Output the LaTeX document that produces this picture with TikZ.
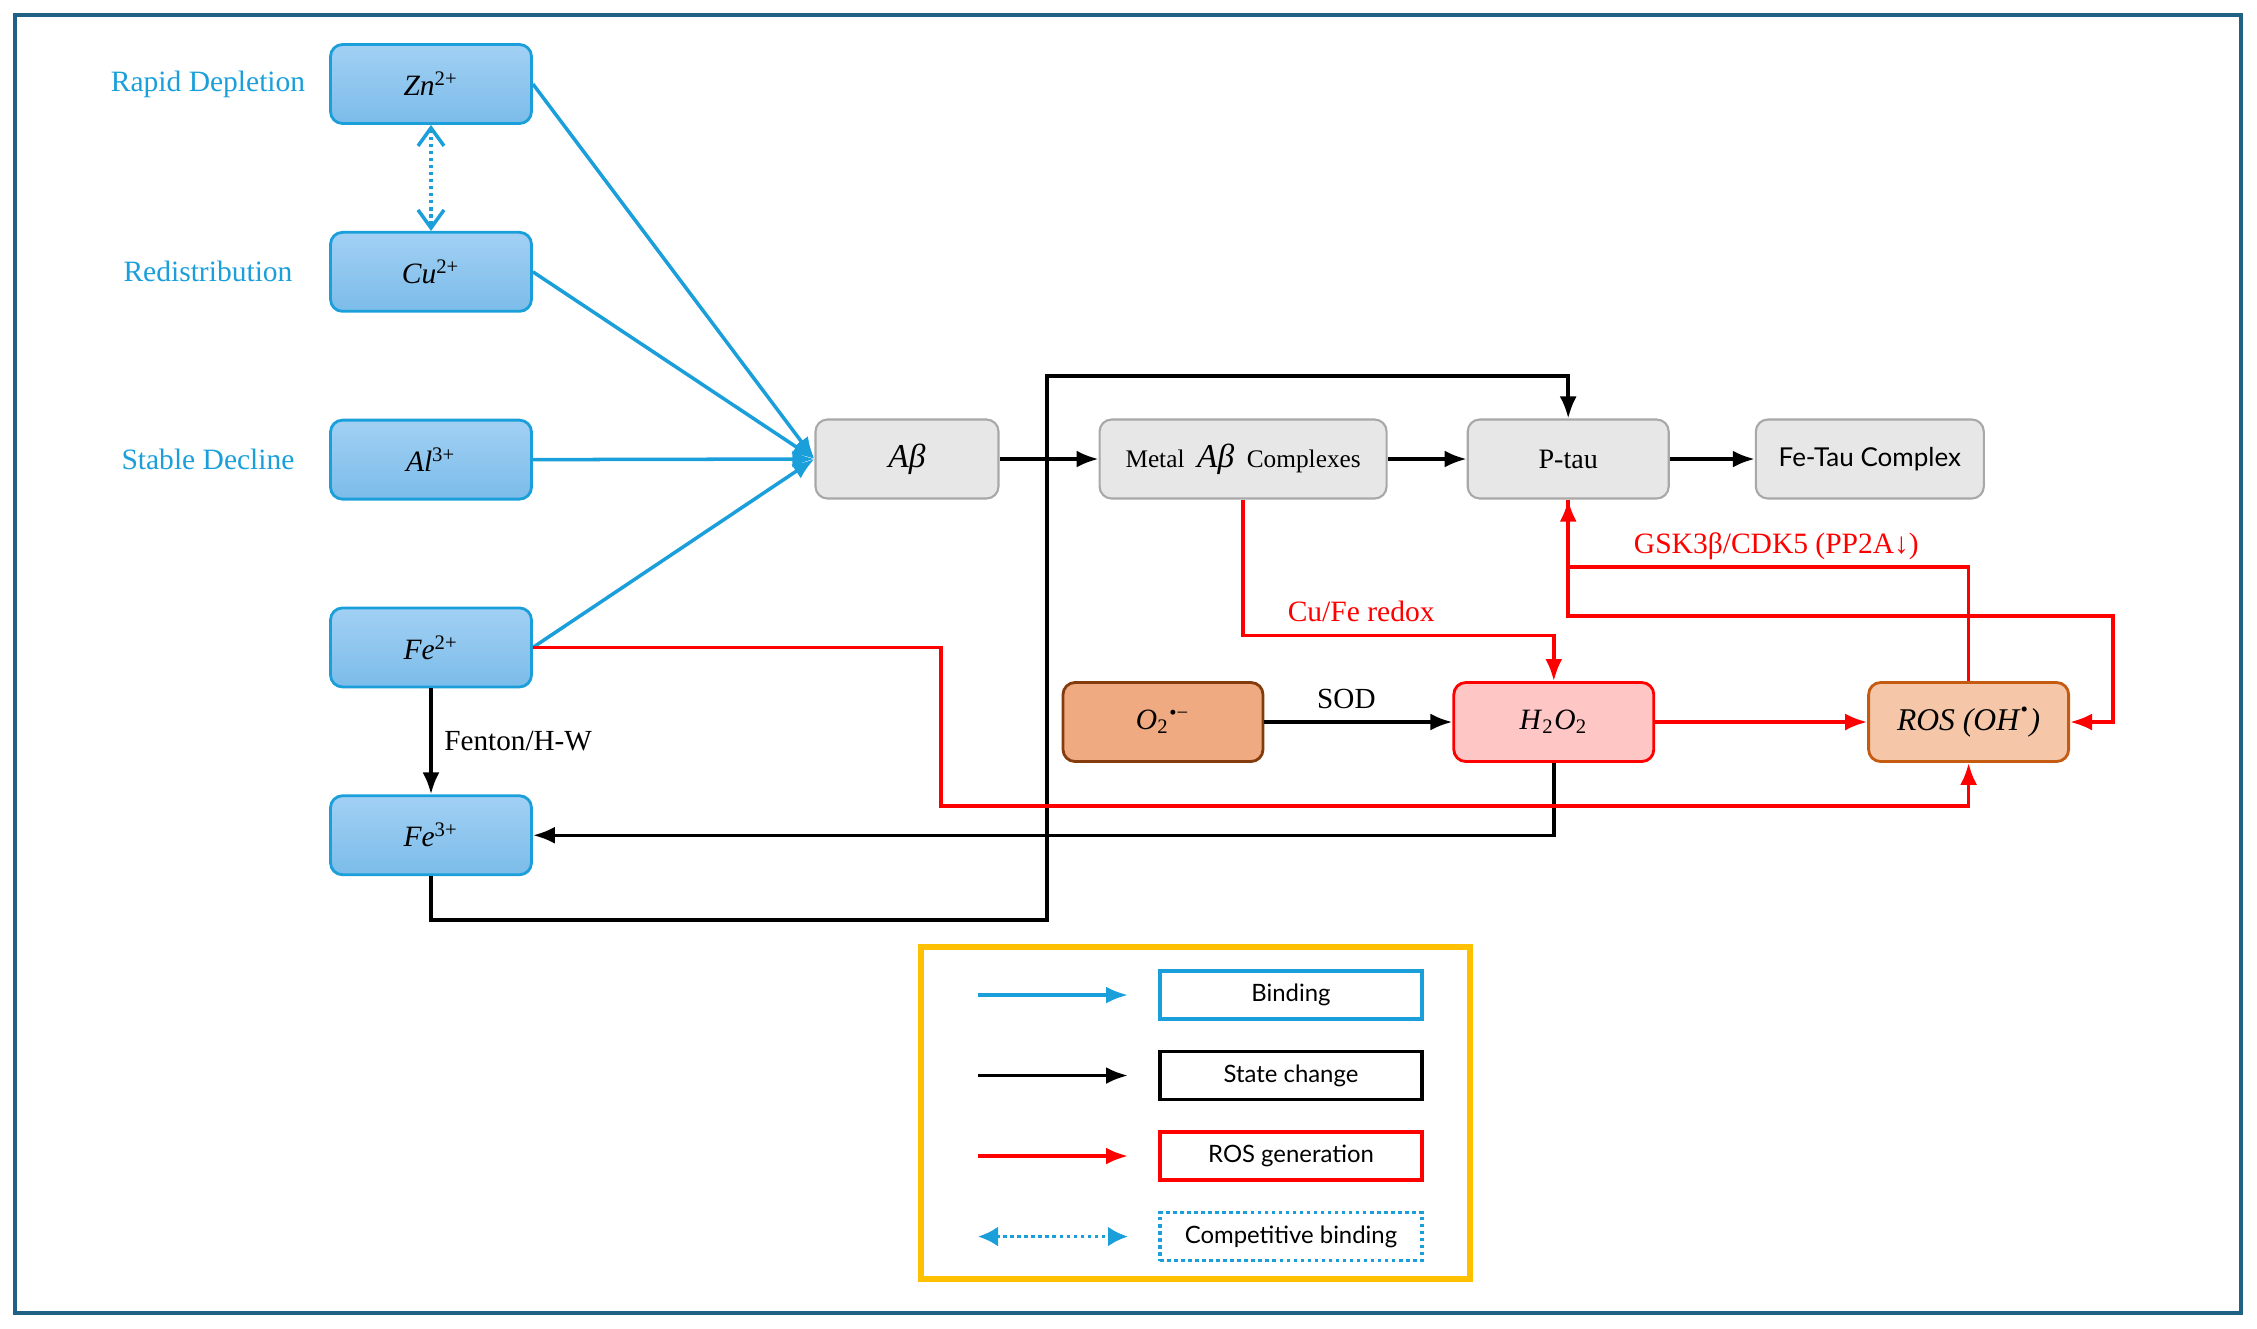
\documentclass[tikz,border=0pt]{standalone}
\usepackage{fontspec}
\setmainfont{Liberation Serif}
\setsansfont{Lato}
\usetikzlibrary{arrows.meta,positioning,calc}
\definecolor{framecol}{HTML}{1F6283}
\definecolor{bindblue}{HTML}{1A9FDA}
\definecolor{iontop}{HTML}{A2D0F4}
\definecolor{ionbot}{HTML}{7BBCE9}
\definecolor{stagefill}{HTML}{E7E7E7}
\definecolor{stagegray}{HTML}{A8A8A8}
\definecolor{rosred}{HTML}{FF0000}
\definecolor{superfill}{HTML}{F0AA82}
\definecolor{superedge}{HTML}{843C0C}
\definecolor{peroxfill}{HTML}{FFC6C6}
\definecolor{rosfill}{HTML}{F6C6A8}
\definecolor{rosedge}{HTML}{C55A11}
\definecolor{legendgold}{HTML}{FFC000}
\tikzset{
  ion/.style={rectangle,rounded corners=1.2mm,draw=bindblue,line width=0.8pt,
    top color=iontop,bottom color=ionbot,minimum width=20.1mm,minimum height=7.9mm,
    font=\fontsize{8.4}{10}\selectfont},
  ionlabel/.style={text=bindblue,font=\fontsize{8.4}{10}\selectfont},
  stage/.style={rectangle,rounded corners=1.2mm,draw=stagegray,line width=0.6pt,
    fill=stagefill,minimum height=7.9mm,font=\fontsize{8}{10}\selectfont},
  species/.style={rectangle,rounded corners=1.2mm,line width=0.8pt,
    minimum width=20mm,minimum height=7.9mm,font=\fontsize{8.4}{10}\selectfont},
  bind/.style={-{Latex[length=2.2mm,width=1.7mm]},line width=1pt,draw=bindblue},
  statechg/.style={-{Latex[length=2.2mm,width=1.7mm]},line width=1pt,draw=black},
  rosgen/.style={-{Latex[length=2.2mm,width=1.7mm]},line width=1pt,draw=rosred},
  compete/.style={{Straight Barb[length=1.8mm,width=2.6mm]}-{Straight Barb[length=1.8mm,width=2.6mm]},
    line width=1pt,draw=bindblue,dash pattern=on 1pt off 1pt},
  legbox/.style={rectangle,line width=1pt,minimum width=26.2mm,minimum height=4.8mm,
    font=\sffamily\fontsize{6.8}{8}\selectfont}
}
\begin{document}
\begin{tikzpicture}[x=0.1mm,y=-0.1mm]
  \useasboundingbox (0,0) rectangle (2257,1328);
  \draw[framecol,line width=1.1pt] (15,15) rectangle (2241,1313);
  % metal ions
  \node[ion] (zn) at (431,84) {\textit{Zn}\textsuperscript{2+}};
  \node[ion,below=10.6mm of zn] (cu) {\textit{Cu}\textsuperscript{2+}};
  \node[ion,below=10.6mm of cu] (al) {\textit{Al}\textsuperscript{3+}};
  \node[ion,below=10.6mm of al] (fe2) {\textit{Fe}\textsuperscript{2+}};
  \node[ion,below=10.6mm of fe2] (fe3) {\textit{Fe}\textsuperscript{3+}};
  \node[ionlabel] (rapid) at ([xshift=-22.3mm]zn.center) {Rapid Depletion};
  \node[ionlabel] (redis) at ([xshift=-22.3mm]cu.center) {Redistribution};
  \node[ionlabel] (stable) at ([xshift=-22.3mm]al.center) {Stable Decline};
  % amyloid / tau chain
  \node[stage,minimum width=18.3mm] (ab) at (907,459) {\fontsize{9.5}{10}\selectfont\textit{Aβ}};
  \node[stage,minimum width=28.7mm,right=9.9mm of ab] (cplx)
    {\fontsize{7.2}{10}\selectfont Metal \ {\fontsize{9.5}{10}\selectfont\textit{Aβ}} \ Complexes};
  \node[stage,minimum width=20.1mm,right=7.9mm of cplx] (ptau) {P-tau};
  \node[stage,minimum width=22.8mm,right=8.5mm of ptau,font=\sffamily\fontsize{7.4}{9}\selectfont] (fetau) {Fe-Tau Complex};
  % reactive species
  \node[species,draw=superedge,fill=superfill] (o2) at (1163,722)
    {\textit{O}\textsubscript{2}\textsuperscript{•−}};
  \node[species,draw=rosred,fill=peroxfill,right=18.8mm of o2] (h2o2)
    {\textit{H}\textsubscript{2}\textit{O}\textsubscript{2}};
  \node[species,draw=rosedge,fill=rosfill,right=21.2mm of h2o2] (ros)
    {\fontsize{9}{10}\selectfont\textit{ROS (OH}\textsuperscript{•}\textit{)}};
  \coordinate (loopx) at (1047,376);
  \coordinate (fejog) at (941,806);
  \coordinate (rosright) at (2113,616);
  % binding
  \draw[bind] (zn.east) -- (ab.west);
  \draw[bind] (cu.east) -- (ab.west);
  \draw[bind] (al.east) -- (ab.west);
  \draw[bind] (fe2.east) -- (ab.west);
  \draw[compete] (zn.south) -- (cu.north);
  % state changes
  \draw[statechg] (ab) -- (cplx);
  \draw[statechg] (cplx) -- (ptau);
  \draw[statechg] (ptau) -- (fetau);
  \draw[statechg] (fe2) -- node[right,font=\fontsize{8.3}{10}\selectfont] {Fenton/H-W} (fe3);
  \draw[statechg] (fe3.south) -- ++(0,44) -| (loopx) -| (ptau.north);
  \draw[statechg] (o2) -- node[above,font=\fontsize{8.3}{10}\selectfont,xshift=-1.2mm] {SOD} (h2o2);
  \draw[statechg] (h2o2.south) |- (fe3.east);
  % ROS generation
  \draw[rosgen] (cplx.south) -- ++(0,136) -| node[pos=0.19,above,text=rosred,font=\fontsize{8.4}{10}\selectfont] {Cu/Fe redox} (h2o2.north);
  \draw[rosgen] (h2o2) -- (ros);
  \draw[rosgen] (fe2.east) -| (fejog) -| (ros.south);
  \draw[rosgen] (ros.north) -- ++(0,-114) -| node[pos=0.24,above,inner sep=1.5pt,text=rosred,font=\fontsize{8.4}{10}\selectfont] {GSK3β/CDK5 (PP2A↓)} (ptau.south);
  \draw[rosgen] (ptau.south) |- (rosright) |- (ros.east);
  % legend
  \draw[legendgold,line width=1.5pt] (921,947) rectangle (1470,1279);
  \node[legbox,draw=bindblue] (lbind) at (1291,995) {Binding};
  \node[legbox,draw=black,below=2.9mm of lbind] (lstate) {State change};
  \node[legbox,draw=rosred,below=2.9mm of lstate] (lros) {ROS generation};
  \node[legbox,draw=bindblue,dash pattern=on 1pt off 1pt,below=2.9mm of lros] (lcomp) {Competitive binding};
  \coordinate (lbinda) at ([xshift=-31.3mm]lbind.center);
  \coordinate (lbindb) at ([xshift=-16.3mm]lbind.center);
  \coordinate (lstatea) at ([xshift=-31.3mm]lstate.center);
  \coordinate (lstateb) at ([xshift=-16.3mm]lstate.center);
  \coordinate (lrosa) at ([xshift=-31.3mm]lros.center);
  \coordinate (lrosb) at ([xshift=-16.3mm]lros.center);
  \coordinate (lcompa) at ([xshift=-31.3mm]lcomp.center);
  \coordinate (lcompb) at ([xshift=-16.3mm]lcomp.center);
  \draw[bind] (lbinda) -- (lbindb);
  \draw[statechg] (lstatea) -- (lstateb);
  \draw[rosgen] (lrosa) -- (lrosb);
  \draw[compete,{Latex[length=2mm,width=2mm]}-{Latex[length=2mm,width=2mm]}] (lcompa) -- (lcompb);
\end{tikzpicture}
\end{document}
